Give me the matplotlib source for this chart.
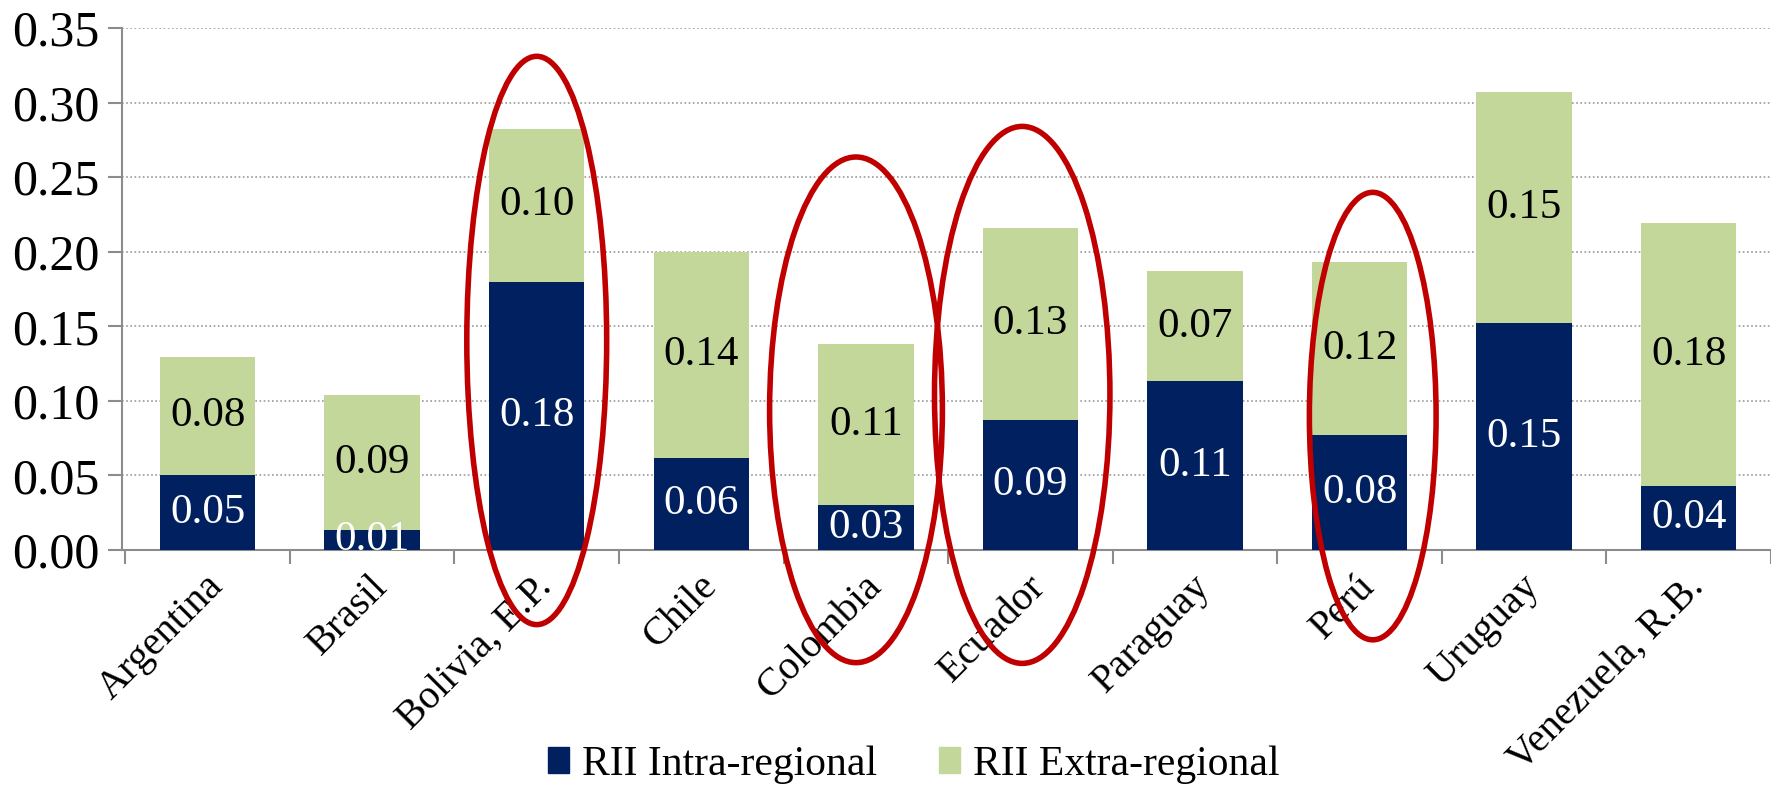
import matplotlib
matplotlib.use("Agg")
import matplotlib.pyplot as plt
from matplotlib.patches import Ellipse, Patch
import numpy as np

countries = ["Argentina", "Brasil", "Bolivia, E.P.", "Chile", "Colombia", "Ecuador",
             "Paraguay", "Perú", "Uruguay", "Venezuela, R.B."]
intra = [0.050, 0.0136, 0.180, 0.062, 0.030, 0.087, 0.113, 0.077, 0.152, 0.043]
extra = [0.0795, 0.090, 0.1026, 0.138, 0.108, 0.129, 0.074, 0.116, 0.155, 0.1765]
intra_labels = ["0.05", "0.01", "0.18", "0.06", "0.03", "0.09", "0.11", "0.08", "0.15", "0.04"]
extra_labels = ["0.08", "0.09", "0.10", "0.14", "0.11", "0.13", "0.07", "0.12", "0.15", "0.18"]
y_ticks = [0.00, 0.05, 0.10, 0.15, 0.20, 0.25, 0.30, 0.35]
# highlighted countries: (x-center, x-width, y-center, height)
highlights = [(2, 0.85, 0.1405, 0.381), (3.94, 1.05, 0.094, 0.339),
              (4.95, 1.066, 0.104, 0.36), (7.08, 0.77, 0.0898, 0.30)]

plt.rcParams['font.family'] = ['Liberation Serif', 'DejaVu Serif']
NAVY = "#00205F"
GREEN = "#C4D79B"

fig = plt.figure(figsize=(17.71, 7.88), dpi=100)
ax = fig.add_axes([0.0689, 0.302, 0.9311, 0.6625])

x = np.arange(len(countries))
w = 0.58
ax.bar(x, intra, w, color=NAVY, zorder=3)
ax.bar(x, extra, w, bottom=intra, color=GREEN, zorder=3)

for i in range(len(countries)):
    ax.text(x[i], intra[i] / 2, intra_labels[i], ha='center', va='center',
            color='white', fontsize=31, zorder=4, clip_on=True)
    ax.text(x[i], intra[i] + extra[i] / 2, extra_labels[i], ha='center', va='center',
            color='black', fontsize=31, zorder=4)

ax.set_ylim(0, 0.35)
ax.set_xlim(-0.52, 9.457)
ax.set_yticks(y_ticks)
ax.set_yticklabels([f"{v:.2f}" for v in y_ticks], fontsize=36)
ax.yaxis.grid(True, linestyle=(0, (1, 1.5)), color='#999999', linewidth=1.2, zorder=0)
ax.set_axisbelow(True)

ax.set_xticks(np.arange(-0.5, len(countries), 1.0))
ax.set_xticklabels([])
for i, c in enumerate(countries):
    ax.text(x[i] - 0.02, -0.012, c, rotation=45, ha='right', va='top',
            rotation_mode='anchor', fontsize=29, transform=ax.transData, clip_on=False)

for s in ['top', 'right']:
    ax.spines[s].set_visible(False)
for s in ['left', 'bottom']:
    ax.spines[s].set_color('#8C8C8C')
    ax.spines[s].set_linewidth(1.5)
ax.tick_params(axis='both', direction='out', color='#8C8C8C', width=1.5, length=10)
ax.tick_params(axis='y', pad=6)

for cx, wd, cy, ht in highlights:
    e = Ellipse((cx, cy), wd, ht, fill=False, edgecolor='#C00000', linewidth=4,
                zorder=6, clip_on=False)
    ax.add_patch(e)

handles = [Patch(color=NAVY, label="RII Intra-regional"),
           Patch(color=GREEN, label="RII Extra-regional")]
fig.legend(handles=handles, loc='lower center', bbox_to_anchor=(0.516, -0.042), ncol=2,
           frameon=False, fontsize=30, handlelength=0.5, handleheight=0.6,
           handletextpad=0.3, columnspacing=1.5)

fig.savefig("out.png", dpi=100)
